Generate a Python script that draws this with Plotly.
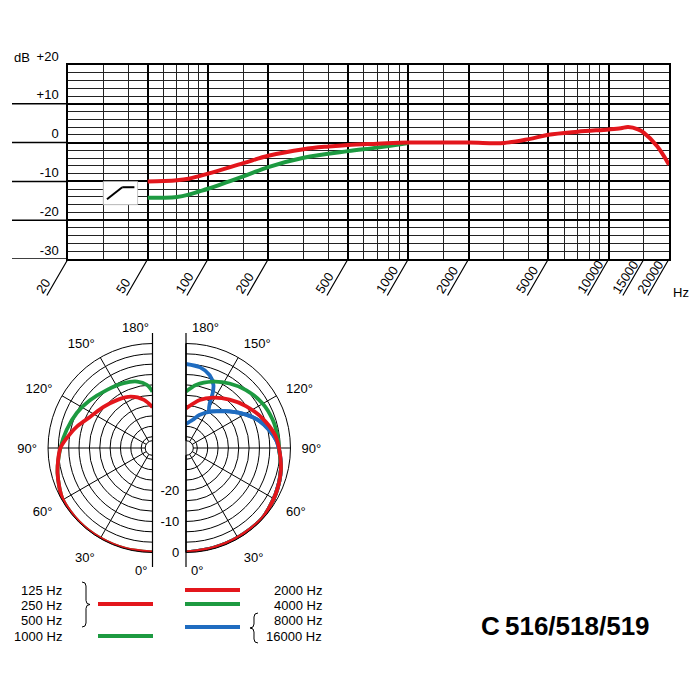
import numpy as np
import plotly.graph_objects as go

# ---- frequency response (dB vs Hz) ----
freq_red = [50, 60, 70, 80, 100, 150, 200, 300, 400, 500, 700, 1000, 2000, 3000,
            4000, 5000, 7000, 10000, 11500, 12500, 14000, 15000, 17500, 20000]
db_red = [-10.0, -9.9, -9.7, -9.3, -8.0, -5.3, -3.4, -1.7, -1.0, -0.6, -0.3, 0.0, 0.0, -0.1,
          0.9, 2.0, 2.8, 3.4, 3.7, 4.0, 3.4, 2.5, -1.0, -5.7]
freq_green = [50, 60, 70, 80, 90, 100, 150, 200, 300, 500, 700, 1000]
db_green = [-14.2, -14.2, -14.0, -13.4, -12.6, -11.9, -8.7, -6.3, -3.9, -2.2, -1.3, -0.1]

major_freqs = [20, 50, 100, 200, 500, 1000, 2000, 5000, 10000, 20000]
minor_freqs = [30, 40, 60, 70, 80, 90, 150, 300, 400, 600, 700, 800, 900, 1500,
               3000, 4000, 6000, 7000, 8000, 9000, 15000]
freq_labels = [20, 50, 100, 200, 500, 1000, 2000, 5000, 10000, 15000, 20000]
db_ticks = [20, 10, 0, -10, -20, -30]
db_tick_text = ["+20", "+10", "0", "-10", "-20", "-30"]

# ---- polar patterns (dB vs angle) ----
theta_l_red = [0, 15, 30, 45, 60, 75, 90, 100, 106, 117, 130, 144, 157, 170, 180]
r_l_red = [0, 0, 0, 0, -0.3, -2.0, -4.0, -6.8, -8.4, -11.3, -13.1, -14.5, -15.7, -17.9, -20.5]
theta_l_green = [0, 15, 30, 45, 60, 75, 90, 102, 115, 127, 142, 156, 167, 175, 180]
r_l_green = [0, 0, 0, 0, -0.3, -2.0, -4.0, -5.4, -6.8, -8.3, -9.9, -10.8, -11.7, -13.3, -15.5]

theta_r_red = [0, 15, 30, 47, 63, 77, 90, 99, 111, 125, 138, 152, 164, 180]
r_r_red = [0, -0.3, -0.3, -0.2, -1.2, -2.3, -3.7, -4.8, -7.2, -10.1, -12.7, -15.3, -17.6, -20.9]
theta_r_green = [0, 15, 30, 47, 63, 77, 90, 97, 108, 120, 134, 146, 158, 171, 180]
r_r_green = [0, -0.3, -0.3, -0.2, -1.2, -2.3, -3.7, -3.9, -4.3, -5.1, -6.8, -8.6, -10.6, -13.1, -15.5]
theta_r_8k = [0, 15, 30, 47, 63, 77, 90, 95, 102, 110, 119, 130, 144, 158, 167, 180]
r_r_8k = [0, -0.3, -0.3, -0.2, -1.2, -2.3, -3.8, -4.5, -6.2, -8.4, -11.5, -15.3, -19.1, -22.2, -24.4, -25.9]
theta_r_16k = [0, 15, 30, 47, 63, 77, 90, 95, 102, 110, 119, 130, 144, 148, 152, 154, 156.5, 162, 170, 180]
r_r_16k = [0, -0.3, -0.3, -0.2, -1.2, -2.3, -3.8, -4.5, -6.2, -8.4, -11.5, -15.3, -19.1, -19.6,
           -17.4, -14.1, -11.5, -9.0, -7.3, -6.6]

angle_ticks = [0, 30, 60, 90, 120, 150, 180]
ring_db = [-31.3, -30, -26.67, -23.33, -20, -16.67, -13.33, -10, -6.67, -3.33, 0]
ring_labels = {-20: "-20", -10: "-10", 0: "0"}

legend_left = ["125 Hz", "250 Hz", "500 Hz", "1000 Hz"]
legend_right = ["2000 Hz", "4000 Hz", "8000 Hz", "16000 Hz"]

RED = "#e3161c"
GREEN = "#1d9a41"
BLUE = "#1f6cc0"
FONT = "Liberation Sans, Arial, sans-serif"
OFF = 8          # page body margin
W = H = 700 - OFF


def px(x):
    return (x - OFF) / W


def py(y):
    return 1 - (y - OFF) / H


fig = go.Figure()

# frequency response curves
fig.add_trace(go.Scatter(x=freq_green, y=db_green, mode="lines",
                         line=dict(color=GREEN, width=4, shape="spline"), showlegend=False))
fig.add_trace(go.Scatter(x=freq_red, y=db_red, mode="lines",
                         line=dict(color=RED, width=4, shape="spline"), showlegend=False))


# polar curves (left half is mirrored: 360 - angle runs to the left)
def pol(theta, r, color, sub, mirror=False):
    th = [360 - t for t in theta] if mirror else theta
    fig.add_trace(go.Scatterpolar(theta=th, r=r, mode="lines", subplot=sub, cliponaxis=False,
                                  line=dict(color=color, width=3.8, shape="spline", smoothing=0.8),
                                  showlegend=False))


pol(theta_l_green, r_l_green, GREEN, "polar", True)
pol(theta_l_red, r_l_red, RED, "polar", True)
pol(theta_r_16k, r_r_16k, BLUE, "polar2")
pol(theta_r_8k, r_r_8k, BLUE, "polar2")
pol(theta_r_green, r_r_green, GREEN, "polar2")
pol(theta_r_red, r_r_red, RED, "polar2")

grid_major = dict(showgrid=True, gridcolor="black", gridwidth=1.5)
grid_minor = dict(showgrid=True, gridcolor="#222", gridwidth=0.7, ticks="")

fig.update_layout(
    width=W, height=H, margin=dict(l=0, r=0, t=0, b=0, autoexpand=False),
    paper_bgcolor="white", plot_bgcolor="white",
    font=dict(family=FONT, size=13, color="black"),
    xaxis=dict(type="log", range=[np.log10(20), np.log10(20000)], domain=[px(68), px(669)],
               tickvals=major_freqs, showticklabels=False, ticks="", zeroline=False, automargin=False,
               minor=dict(tickvals=minor_freqs, **grid_minor),
               showline=True, mirror=True, linecolor="black", linewidth=1.5, **grid_major),
    yaxis=dict(range=[-30, 20], domain=[py(259), py(65)], tickvals=db_ticks, ticktext=db_tick_text,
               ticks="", ticklabelshift=-9, ticklabelstandoff=5, zeroline=False, automargin=False,
               minor=dict(tick0=0, dtick=2, **grid_minor),
               showline=True, mirror=True, linecolor="black", linewidth=1.5, **grid_major),
)

# 0° and 180° sit beside the straight edges, so they are written as annotations below
angle_text = ["" if a in (0, 180) else f"{a}°" for a in angle_ticks]


def polar_layout(xd, sector, tickvals, show_r):
    return dict(
        domain=dict(x=xd, y=[py(552.5), py(343.5)]), sector=sector, hole=0.07, bgcolor="white",
        angularaxis=dict(rotation=270, direction="counterclockwise", tickvals=tickvals, ticktext=angle_text,
                         ticks="outside", ticklen=8, tickcolor="rgba(0,0,0,0)",
                         gridcolor="black", gridwidth=0.7, linecolor="black", linewidth=1,
                         tickfont=dict(size=13)),
        radialaxis=dict(range=[-31.3, 0], tickvals=ring_db, showline=False,
                        ticks="outside", ticklen=1, tickcolor="rgba(0,0,0,0)",
                        gridcolor="black", gridwidth=0.7, showticklabels=show_r,
                        ticktext=[ring_labels.get(v, "") for v in ring_db], tickangle=-90,
                        tickfont=dict(size=13)),
    )


fig.update_layout(
    polar=polar_layout([px(48), px(152.5)], [90, 270], [360 - a for a in angle_ticks], False),
    polar2=polar_layout([px(186), px(290.5)], [-90, 90], angle_ticks, True),
)

shapes = []
annotations = []

for (xa, ya, t) in [(135, 327, "180°"), (205, 327, "180°"), (141, 570, "0°"), (197, 570, "0°")]:
    annotations.append(dict(x=px(xa), y=py(ya), xref="paper", yref="paper", text=t, showarrow=False,
                            xanchor="center", yanchor="middle", font=dict(size=13)))

# slanted frequency tick marks and labels
for f in freq_labels:
    annotations.append(dict(x=np.log10(f), y=-30, xref="x", yref="y", text="", showarrow=True,
                            arrowhead=0, arrowwidth=1.2, arrowcolor="black", ax=-22, ay=38,
                            standoff=0, startstandoff=0))
    annotations.append(dict(x=np.log10(f), y=-30, xref="x", yref="y", text=str(f), showarrow=False,
                            textangle=-57, xanchor="left", yanchor="bottom", xshift=-38, yshift=-40,
                            font=dict(size=13)))

# major dB lines running out to the left
for v in [10, 0, -10, -20, -30]:
    shapes.append(dict(type="line", xref="paper", yref="y", x0=px(12), x1=px(68), y0=v, y1=v,
                       line=dict(color="black", width=1.5)))

annotations.append(dict(x=px(12), y=py(57), xref="paper", yref="paper", text="dB", showarrow=False,
                        xanchor="left", yanchor="middle", font=dict(size=13)))
annotations.append(dict(x=px(671), y=py(293), xref="paper", yref="paper", text="Hz", showarrow=False,
                        xanchor="left", yanchor="middle", font=dict(size=13)))

# high-pass filter symbol (shape coordinates on the log axis are plain Hz values)
shapes.append(dict(type="rect", xref="x", yref="y", x0=30, x1=44.5, y0=-16, y1=-10,
                   fillcolor="white", line=dict(color="#bbbbbb", width=0.8), layer="above"))
shapes.append(dict(type="line", xref="x", yref="y", x0=31.3, x1=37.3, y0=-14.6, y1=-11.5,
                   line=dict(color="black", width=2), layer="above"))
shapes.append(dict(type="line", xref="x", yref="y", x0=37.3, x1=42.9, y0=-11.5, y1=-11.5,
                   line=dict(color="black", width=2), layer="above"))

# straight edges of the half polar plots
for xe in [152.5, 186]:
    shapes.append(dict(type="line", xref="paper", yref="paper", x0=px(xe), x1=px(xe), y0=py(333), y1=py(567),
                       line=dict(color="black", width=1.2)))


def brace(xl, w, yt, yb):
    ym = (yt + yb) / 2
    r = 4
    xm = xl + w / 2
    pts = [("M", [(xl, yt)]), ("Q", [(xm, yt), (xm, yt + r)]), ("L", [(xm, ym - r)]),
           ("Q", [(xm, ym), (xl + w, ym)]), ("Q", [(xm, ym), (xm, ym + r)]), ("L", [(xm, yb - r)]),
           ("Q", [(xm, yb), (xl, yb)])]
    s = ""
    for cmd, pp in pts:
        s += cmd + " " + " ".join(f"{px(a):.5f},{py(b):.5f}" for a, b in pp) + " "
    return s.strip()


shapes.append(dict(type="path", xref="paper", yref="paper", path=brace(82, 8, 582, 627),
                   line=dict(color="black", width=1)))
shapes.append(dict(type="path", xref="paper", yref="paper", path=brace(258, -8, 613, 643),
                   line=dict(color="black", width=1)))

# legend
left_y = [590, 605, 620, 636]
right_y = [590, 605, 620, 636]
for t, y in zip(legend_left, left_y):
    annotations.append(dict(x=px(64), y=py(y), xref="paper", yref="paper", text=t, showarrow=False,
                            xanchor="right", yanchor="middle", font=dict(size=13)))
for t, y in zip(legend_right, right_y):
    annotations.append(dict(x=px(324), y=py(y), xref="paper", yref="paper", text=t, showarrow=False,
                            xanchor="right", yanchor="middle", font=dict(size=13)))
for (x0, x1, y, c) in [(98, 153, 604, RED), (98, 153, 636, GREEN),
                       (185, 240, 590, RED), (185, 240, 604, GREEN), (185, 240, 627, BLUE)]:
    shapes.append(dict(type="line", xref="paper", yref="paper", x0=px(x0), x1=px(x1), y0=py(y), y1=py(y),
                       line=dict(color=c, width=3.8)))

annotations.append(dict(x=px(565), y=py(626), xref="paper", yref="paper", text="<b>C\u2009516/518/519</b>",
                        showarrow=False, xanchor="center", yanchor="middle", font=dict(size=26)))

fig.update_layout(shapes=shapes, annotations=annotations)
fig.write_html("out.html")
